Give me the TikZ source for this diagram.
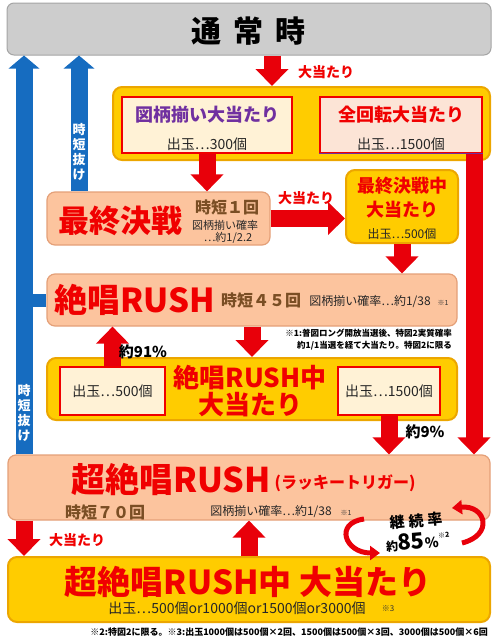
\documentclass[tikz,border=0pt]{standalone}
\usepackage{fontspec}
\setmainfont{Noto Sans CJK JP}
\usetikzlibrary{arrows.meta,positioning}

\definecolor{hitred}{RGB}{240,0,0}
\definecolor{arrred}{RGB}{232,0,10}
\definecolor{gold}{RGB}{255,204,0}
\definecolor{goldedge}{RGB}{236,166,0}
\definecolor{peach}{RGB}{252,196,158}
\definecolor{peachedge}{RGB}{228,160,120}
\definecolor{cream}{RGB}{255,242,214}
\definecolor{pinkish}{RGB}{252,228,214}
\definecolor{normgray}{RGB}{205,205,205}
\definecolor{normedge}{RGB}{165,165,165}
\definecolor{jtblue}{RGB}{22,108,192}
\definecolor{jbrown}{RGB}{122,78,36}
\definecolor{purp}{RGB}{112,48,160}

\newcommand{\fsz}[1]{\fontsize{#1}{#1}\selectfont}

\begin{document}
\begin{tikzpicture}[
  x=1pt, y=-1pt,
  inner sep=0pt,
  graybox/.style={draw=normedge, line width=1pt, fill=normgray, rounded corners=7pt},
  goldbox/.style={draw=goldedge, line width=2pt, fill=gold, rounded corners=9pt},
  peachbox/.style={draw=peachedge, line width=1.2pt, fill=peach, rounded corners=8pt},
  inbox/.style={draw=hitred, line width=1.2pt, fill=cream},
  redarr/.style={draw=arrred, line width=17pt, -{Triangle[width=32pt,length=17pt]}},
  bluearr/.style={draw=jtblue, line width=17pt, -{Triangle[width=30pt,length=13pt]}},
  cyc/.style={draw=arrred, line width=5pt, -{Triangle[width=14pt,length=10pt]}},
  bigred/.style={text=hitred, font=\bfseries\fsz{33}},
  hitlbl/.style={text=hitred, font=\bfseries\fsz{14}},
  jitan/.style={text=jbrown, font=\bfseries\fsz{16}},
  pay/.style={text=black!85, font=\fsz{14}},
  prob/.style={text=black!85, font=\fsz{12}},
  jtlbl/.style={text=white, align=center, font=\bfseries\fontsize{13}{15}\selectfont},
  note/.style={align=right, font=\bfseries\fontsize{8.5}{12}\selectfont}
]
\useasboundingbox (0,0) rectangle (496,640);

% boxes
\node[graybox, minimum width=484pt, minimum height=52pt] (normal) at (249,29) {};
\node[font=\bfseries\fsz{30}] (normalT) at (248,31) {通\hspace{12pt}常\hspace{12pt}時};

\node[goldbox, minimum width=377pt, minimum height=73pt] (hit) at (301.5,123.5) {};
\node[inbox, minimum width=170pt, minimum height=56pt] (zuhit) at (207,125) {};
\node[inbox, fill=pinkish, minimum width=162pt, minimum height=56pt] (allhit) at (401,125) {};
\draw[purp, line width=1.2pt] (allhit.south west) -- (allhit.south east);
\node[text=purp, font=\bfseries\fsz{18}] (zuhitT) at (207,115) {図柄揃い大当たり};
\node[pay] (zuhitP) at (207,144) {出玉…300個};
\node[text=hitred, font=\bfseries\fsz{18}] (allhitT) at (401,115) {全回転大当たり};
\node[pay] (allhitP) at (401,144) {出玉…1500個};

\node[peachbox, minimum width=223pt, minimum height=53pt] (final) at (158.5,218.5) {};
\node[bigred, font=\bfseries\fsz{31}] (finalT) at (120,221) {最終決戦};
\node[jitan] (finalJ) at (227,207) {時短１回};
\node[prob, font=\fsz{11}] (finalP1) at (225,225) {図柄揃い確率};
\node[prob, font=\fsz{11}] (finalP2) at (228,238) {…約1/2.2};

\node[goldbox, minimum width=112pt, minimum height=73pt] (finalhit) at (402,206.5) {};
\node[text=hitred, align=center, font=\bfseries\fontsize{18}{24}\selectfont] (finalhitT) at (402,198) {最終決戦中\\大当たり};
\node[pay, font=\fsz{12}] (finalhitP) at (402,234) {出玉…500個};

\node[peachbox, minimum width=410pt, minimum height=52pt] (zrush) at (252,300) {};
\node[bigred] (zrushT) at (135,300) {絶唱RUSH};
\node[jitan] (zrushJ) at (261,300) {時短４５回};
\node[prob] (zrushP) at (370,302) {図柄揃い確率…約1/38};
\node[font=\fsz{7}, text=black!80] (zrushN) at (443,303) {※1};
\node[note, anchor=north east] (note1) at (452,329) {※1:普図ロング開放当選後、特図2実質確率\\約1/1当選を経て大当たり。特図2に限る};

\node[goldbox, minimum width=410pt, minimum height=62pt] (zrhit) at (252,389) {};
\node[inbox, minimum width=105pt, minimum height=48pt] (zr500) at (112.5,391) {};
\node[inbox, minimum width=102pt, minimum height=48pt] (zr1500) at (389,391) {};
\node[pay] (zr500P) at (112.5,391) {出玉…500個};
\node[pay] (zr1500P) at (389,391) {出玉…1500個};
\node[text=hitred, align=center, font=\bfseries\fontsize{26}{27}\selectfont] (zrhitT) at (250,391) {絶唱RUSH中\\大当たり};

\node[peachbox, minimum width=482pt, minimum height=65pt] (srush) at (249,487.5) {};
\node[bigred, font=\bfseries\fsz{34}] (srushT) at (171,480) {超絶唱RUSH};
\node[text=hitred, font=\bfseries\fsz{16}] (srushL) at (345,483) {(ラッキートリガー)};
\node[jitan] (srushJ) at (105,512) {時短７０回};
\node[prob] (srushP) at (271,512) {図柄揃い確率…約1/38};
\node[font=\fsz{7}, text=black!80] (srushN) at (346,513) {※1};

\node[goldbox, minimum width=482pt, minimum height=65pt] (srhit) at (249,589.5) {};
\node[bigred] (srhitT) at (248,582) {超絶唱RUSH中 大当たり};
\node[pay] (srhitP) at (237,608) {出玉…500個or1000個or1500個or3000個};
\node[font=\fsz{8}, text=black!80] (srhitN) at (388,609) {※3};

\node[note, anchor=east, font=\bfseries\fsz{9}] (note2) at (488,632) {※2:特図2に限る。※3:出玉1000個は500個×2回、1500個は500個×3回、3000個は500個×6回};

% arrows
\coordinate (lx) at (24,0);
\coordinate (bx) at (79,0);
\coordinate (nx) at (272,0);
\coordinate (rx) at (474,0);

\draw[jtblue, line width=13pt] (zrush.west) -- (zrush.west -| lx);
\draw[bluearr] (srush.north -| lx) -- (normal.south -| lx);
\draw[bluearr] (final.north -| bx) -- (normal.south -| bx);
\node[jtlbl] (jt1) at (79,152) {時\\短\\抜\\け};
\node[jtlbl] (jt2) at (24,413) {時\\短\\抜\\け};

\draw[redarr] (normal.south -| nx) -- (hit.north -| nx);
\node[hitlbl] (lbl1) at (326,72) {大当たり};
\draw[redarr] (zuhit.south) -- (zuhit.south |- final.north);
\draw[redarr] (final.east) -- (final.east -| finalhit.west);
\node[hitlbl] (lbl2) at (306,198) {大当たり};
\draw[redarr] (finalhit.south) -- (finalhit.south |- zrush.north);
\draw[redarr] (allhit.south -| rx) -- (srush.north -| rx);
\draw[redarr] (zrush.south) -- (zrhit.north);
\draw[redarr] (zr500.north) -- (zr500.north |- zrush.south);
\node[font=\bfseries\fsz{15}] (p91) at (143,352) {約91\%};
\draw[redarr] (zr1500.south) -- (zr1500.south |- srush.north);
\node[font=\bfseries\fsz{15}] (p9) at (425,432) {約9\%};
\draw[redarr] (srush.south -| lx) -- (srhit.north -| lx);
\node[hitlbl] (lbl3) at (77,540) {大当たり};
\draw[redarr] (srhit.north) -- (srush.south);

% continuation rate
\node[rotate=5, align=center, font=\bfseries] (rate) at (417,532) {\fsz{15}継\hspace{4pt}続\hspace{4pt}率\\[4pt]\fsz{12}約\fsz{22}85\fsz{14}\%\raisebox{9pt}{\fsz{7}※2}};
\coordinate (cyc1a) at (364,519);
\coordinate (cyc1b) at (380,553);
\coordinate (cyc2a) at (462,543);
\coordinate (cyc2b) at (452,508);
\draw[cyc] (cyc1a) .. controls (334,523) and (345,553) .. (cyc1b);
\draw[cyc] (cyc2a) .. controls (494,535) and (486,505) .. (cyc2b);
\end{tikzpicture}
\end{document}
